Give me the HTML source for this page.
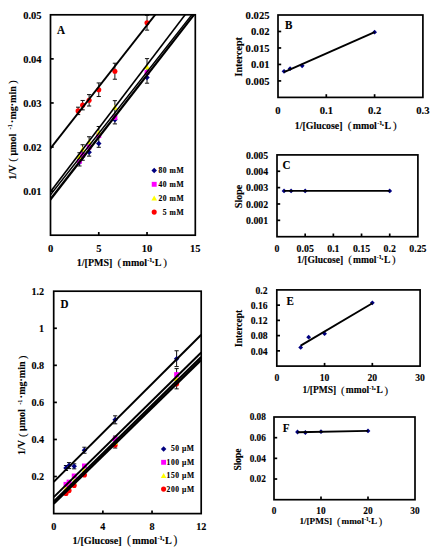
<!DOCTYPE html>
<html><head><meta charset="utf-8"><style>
html,body{margin:0;padding:0;background:#fff;width:435px;height:550px;overflow:hidden}
svg{display:block;font-family:"Liberation Serif", serif}
text{stroke:#000;stroke-width:0.12px}
</style></head><body>
<svg width="435" height="550" viewBox="0 0 435 550">
<rect width="435" height="550" fill="#fff"/>
<clipPath id="ca"><rect x="50.50" y="14.80" width="144.80" height="220.40"/></clipPath>
<text transform="translate(41.60,18.73) scale(0.93,1)" font-size="11.3" text-anchor="end" font-weight="bold">0.05</text>
<text transform="translate(41.60,62.81) scale(0.93,1)" font-size="11.3" text-anchor="end" font-weight="bold">0.04</text>
<text transform="translate(41.60,106.89) scale(0.93,1)" font-size="11.3" text-anchor="end" font-weight="bold">0.03</text>
<text transform="translate(41.60,150.97) scale(0.93,1)" font-size="11.3" text-anchor="end" font-weight="bold">0.02</text>
<text transform="translate(41.60,195.05) scale(0.93,1)" font-size="11.3" text-anchor="end" font-weight="bold">0.01</text>
<text transform="translate(50.50,251.53) scale(0.93,1)" font-size="11.3" text-anchor="middle" font-weight="bold">0</text>
<text transform="translate(98.77,251.53) scale(0.93,1)" font-size="11.3" text-anchor="middle" font-weight="bold">5</text>
<text transform="translate(147.03,251.53) scale(0.93,1)" font-size="11.3" text-anchor="middle" font-weight="bold">10</text>
<text transform="translate(195.30,251.53) scale(0.93,1)" font-size="11.3" text-anchor="middle" font-weight="bold">15</text>
<text x="76.80" y="265.50" font-size="10" font-weight="bold">1/[PMS]</text>
<text x="117.55" y="266.00" font-size="11.20">(</text>
<text x="122.55" y="265.50" font-size="10" font-weight="bold">mmol<tspan font-size="6.20" dy="-3.80" dx="0.30">-1</tspan><tspan dy="3.80" dx="-1.00">·L</tspan></text>
<text x="163.15" y="266.00" font-size="11.20">)</text>
<g transform="translate(15.80,179.70) rotate(-90)"><text x="0" y="0" font-size="10" font-weight="bold">1/V</text><text x="18.0" y="0.3" font-size="10.5">(</text><text x="24.1" y="0" font-size="10" font-weight="bold">μmol</text><text x="50.3" y="-3.6" font-size="6.2" font-weight="bold">-1</text><text x="56.8" y="0" font-size="10" font-weight="bold">·mg·min</text><text x="96.0" y="0.3" font-size="10.5">)</text></g>
<text transform="translate(57.00,33.60) scale(0.88,1)" font-size="12.6" font-weight="bold">A</text>
<line x1="78.11" y1="107.19" x2="78.11" y2="114.59" stroke="#111" stroke-width="1.0" />
<line x1="76.01" y1="107.19" x2="80.21" y2="107.19" stroke="#111" stroke-width="1.0" />
<line x1="76.01" y1="114.59" x2="80.21" y2="114.59" stroke="#111" stroke-width="1.0" />
<line x1="82.65" y1="100.46" x2="82.65" y2="109.86" stroke="#111" stroke-width="1.0" />
<line x1="80.55" y1="100.46" x2="84.75" y2="100.46" stroke="#111" stroke-width="1.0" />
<line x1="80.55" y1="109.86" x2="84.75" y2="109.86" stroke="#111" stroke-width="1.0" />
<line x1="89.11" y1="94.62" x2="89.11" y2="106.02" stroke="#111" stroke-width="1.0" />
<line x1="87.01" y1="94.62" x2="91.21" y2="94.62" stroke="#111" stroke-width="1.0" />
<line x1="87.01" y1="106.02" x2="91.21" y2="106.02" stroke="#111" stroke-width="1.0" />
<line x1="98.77" y1="82.94" x2="98.77" y2="96.54" stroke="#111" stroke-width="1.0" />
<line x1="96.67" y1="82.94" x2="100.87" y2="82.94" stroke="#111" stroke-width="1.0" />
<line x1="96.67" y1="96.54" x2="100.87" y2="96.54" stroke="#111" stroke-width="1.0" />
<line x1="114.89" y1="63.22" x2="114.89" y2="79.22" stroke="#111" stroke-width="1.0" />
<line x1="112.79" y1="63.22" x2="116.99" y2="63.22" stroke="#111" stroke-width="1.0" />
<line x1="112.79" y1="79.22" x2="116.99" y2="79.22" stroke="#111" stroke-width="1.0" />
<line x1="147.03" y1="15.33" x2="147.03" y2="30.13" stroke="#111" stroke-width="1.0" />
<line x1="144.93" y1="15.33" x2="149.13" y2="15.33" stroke="#111" stroke-width="1.0" />
<line x1="144.93" y1="30.13" x2="149.13" y2="30.13" stroke="#111" stroke-width="1.0" />
<line x1="79.46" y1="152.74" x2="79.46" y2="165.97" stroke="#111" stroke-width="1.0" />
<line x1="77.36" y1="152.74" x2="81.56" y2="152.74" stroke="#111" stroke-width="1.0" />
<line x1="77.36" y1="165.97" x2="81.56" y2="165.97" stroke="#111" stroke-width="1.0" />
<line x1="82.65" y1="144.74" x2="82.65" y2="160.24" stroke="#111" stroke-width="1.0" />
<line x1="80.55" y1="144.74" x2="84.75" y2="144.74" stroke="#111" stroke-width="1.0" />
<line x1="80.55" y1="160.24" x2="84.75" y2="160.24" stroke="#111" stroke-width="1.0" />
<line x1="89.11" y1="136.75" x2="89.11" y2="156.13" stroke="#111" stroke-width="1.0" />
<line x1="87.01" y1="136.75" x2="91.21" y2="136.75" stroke="#111" stroke-width="1.0" />
<line x1="87.01" y1="156.13" x2="91.21" y2="156.13" stroke="#111" stroke-width="1.0" />
<line x1="98.77" y1="126.49" x2="98.77" y2="147.31" stroke="#111" stroke-width="1.0" />
<line x1="96.67" y1="126.49" x2="100.87" y2="126.49" stroke="#111" stroke-width="1.0" />
<line x1="96.67" y1="147.31" x2="100.87" y2="147.31" stroke="#111" stroke-width="1.0" />
<line x1="114.89" y1="100.67" x2="114.89" y2="123.91" stroke="#111" stroke-width="1.0" />
<line x1="112.79" y1="100.67" x2="116.99" y2="100.67" stroke="#111" stroke-width="1.0" />
<line x1="112.79" y1="123.91" x2="116.99" y2="123.91" stroke="#111" stroke-width="1.0" />
<line x1="147.03" y1="58.61" x2="147.03" y2="83.19" stroke="#111" stroke-width="1.0" />
<line x1="144.93" y1="58.61" x2="149.13" y2="58.61" stroke="#111" stroke-width="1.0" />
<line x1="144.93" y1="83.19" x2="149.13" y2="83.19" stroke="#111" stroke-width="1.0" />
<path d="M79.46,159.72L82.21,162.47L79.46,165.22L76.71,162.47Z" fill="#000080"/>
<path d="M82.65,153.99L85.40,156.74L82.65,159.49L79.90,156.74Z" fill="#000080"/>
<path d="M89.11,149.58L91.86,152.33L89.11,155.08L86.36,152.33Z" fill="#000080"/>
<path d="M98.77,140.76L101.52,143.51L98.77,146.26L96.02,143.51Z" fill="#000080"/>
<path d="M114.89,116.96L117.64,119.71L114.89,122.46L112.14,119.71Z" fill="#000080"/>
<path d="M147.03,74.64L149.78,77.39L147.03,80.14L144.28,77.39Z" fill="#000080"/>
<rect x="77.01" y="158.70" width="4.90" height="4.90" fill="#ff00ff"/>
<rect x="80.20" y="152.52" width="4.90" height="4.90" fill="#ff00ff"/>
<rect x="86.66" y="144.59" width="4.90" height="4.90" fill="#ff00ff"/>
<rect x="96.32" y="133.13" width="4.90" height="4.90" fill="#ff00ff"/>
<rect x="112.44" y="115.06" width="4.90" height="4.90" fill="#ff00ff"/>
<rect x="144.58" y="70.09" width="4.90" height="4.90" fill="#ff00ff"/>
<path d="M79.46,153.94L82.26,159.12L76.66,159.12Z" fill="#ffff00"/>
<path d="M82.65,146.44L85.45,151.62L79.85,151.62Z" fill="#ffff00"/>
<path d="M89.11,138.95L91.91,144.13L86.31,144.13Z" fill="#ffff00"/>
<path d="M98.77,129.69L101.57,134.87L95.97,134.87Z" fill="#ffff00"/>
<path d="M114.89,104.57L117.69,109.75L112.09,109.75Z" fill="#ffff00"/>
<path d="M147.03,64.01L149.83,69.19L144.23,69.19Z" fill="#ffff00"/>
<circle cx="78.11" cy="110.89" r="2.55" fill="#ff0000"/>
<circle cx="82.65" cy="105.16" r="2.55" fill="#ff0000"/>
<circle cx="89.11" cy="100.32" r="2.55" fill="#ff0000"/>
<circle cx="98.77" cy="89.74" r="2.55" fill="#ff0000"/>
<circle cx="114.89" cy="71.22" r="2.55" fill="#ff0000"/>
<circle cx="147.03" cy="22.73" r="2.55" fill="#ff0000"/>
<line x1="50.50" y1="199.94" x2="195.30" y2="13.54" stroke="#000" stroke-width="1.5" clip-path="url(#ca)"/>
<line x1="50.50" y1="198.61" x2="195.30" y2="12.55" stroke="#000" stroke-width="1.5" clip-path="url(#ca)"/>
<line x1="50.50" y1="194.87" x2="195.30" y2="10.39" stroke="#000" stroke-width="1.5" clip-path="url(#ca)"/>
<line x1="50.50" y1="191.78" x2="195.30" y2="1.36" stroke="#000" stroke-width="1.6" clip-path="url(#ca)"/>
<line x1="50.50" y1="148.36" x2="195.30" y2="-36.44" stroke="#000" stroke-width="1.9" clip-path="url(#ca)"/>
<rect x="50.50" y="14.80" width="144.80" height="220.40" fill="none" stroke="#000" stroke-width="1.7"/>
<line x1="98.77" y1="235.20" x2="98.77" y2="232.00" stroke="#000" stroke-width="1.7" />
<line x1="147.03" y1="235.20" x2="147.03" y2="232.00" stroke="#000" stroke-width="1.7" />
<line x1="50.50" y1="191.12" x2="53.70" y2="191.12" stroke="#000" stroke-width="1.7" />
<line x1="50.50" y1="147.04" x2="53.70" y2="147.04" stroke="#000" stroke-width="1.7" />
<line x1="50.50" y1="102.96" x2="53.70" y2="102.96" stroke="#000" stroke-width="1.7" />
<line x1="50.50" y1="58.88" x2="53.70" y2="58.88" stroke="#000" stroke-width="1.7" />
<path d="M154.20,167.65L156.95,170.40L154.20,173.15L151.45,170.40Z" fill="#000080"/>
<text x="184.20" y="172.91" font-size="7.6" text-anchor="end" font-weight="bold" letter-spacing="0.55">80 mM</text>
<rect x="151.75" y="181.85" width="4.90" height="4.90" fill="#ff00ff"/>
<text x="184.20" y="186.81" font-size="7.6" text-anchor="end" font-weight="bold" letter-spacing="0.55">40 mM</text>
<path d="M154.20,195.40L157.00,200.58L151.40,200.58Z" fill="#ffff00"/>
<text x="184.20" y="200.71" font-size="7.6" text-anchor="end" font-weight="bold" letter-spacing="0.55">20 mM</text>
<circle cx="154.20" cy="212.10" r="2.55" fill="#ff0000"/>
<text x="184.20" y="214.61" font-size="7.6" text-anchor="end" font-weight="bold" letter-spacing="0.55">5 mM</text>
<rect x="278.00" y="15.00" width="144.90" height="82.40" fill="none" stroke="#000" stroke-width="1.7"/>
<line x1="326.30" y1="97.40" x2="326.30" y2="94.20" stroke="#000" stroke-width="1.7" />
<line x1="374.60" y1="97.40" x2="374.60" y2="94.20" stroke="#000" stroke-width="1.7" />
<line x1="278.00" y1="80.92" x2="281.20" y2="80.92" stroke="#000" stroke-width="1.7" />
<line x1="278.00" y1="64.44" x2="281.20" y2="64.44" stroke="#000" stroke-width="1.7" />
<line x1="278.00" y1="47.96" x2="281.20" y2="47.96" stroke="#000" stroke-width="1.7" />
<line x1="278.00" y1="31.48" x2="281.20" y2="31.48" stroke="#000" stroke-width="1.7" />
<text transform="translate(269.50,18.93) scale(0.94,1)" font-size="11.3" text-anchor="end" font-weight="bold">0.025</text>
<text transform="translate(269.50,35.41) scale(0.94,1)" font-size="11.3" text-anchor="end" font-weight="bold">0.02</text>
<text transform="translate(269.50,51.89) scale(0.94,1)" font-size="11.3" text-anchor="end" font-weight="bold">0.015</text>
<text transform="translate(269.50,68.37) scale(0.94,1)" font-size="11.3" text-anchor="end" font-weight="bold">0.01</text>
<text transform="translate(269.50,84.85) scale(0.94,1)" font-size="11.3" text-anchor="end" font-weight="bold">0.005</text>
<text transform="translate(278.00,113.73) scale(0.94,1)" font-size="11.3" text-anchor="middle" font-weight="bold">0</text>
<text transform="translate(326.30,113.73) scale(0.94,1)" font-size="11.3" text-anchor="middle" font-weight="bold">0.1</text>
<text transform="translate(374.60,113.73) scale(0.94,1)" font-size="11.3" text-anchor="middle" font-weight="bold">0.2</text>
<text transform="translate(422.90,113.73) scale(0.94,1)" font-size="11.3" text-anchor="middle" font-weight="bold">0.3</text>
<text x="294.80" y="128.87" font-size="9.9" font-weight="bold">1/[Glucose]</text>
<text x="347.79" y="129.37" font-size="11.09">(</text>
<text x="352.74" y="128.87" font-size="9.9" font-weight="bold">mmol<tspan font-size="6.14" dy="-3.76" dx="0.30">-1</tspan><tspan dy="3.76" dx="-0.99">·L</tspan></text>
<text x="392.93" y="129.37" font-size="11.09">)</text>
<text transform="translate(242.20,56.75) rotate(-90)" x="0" y="0" font-size="10" font-weight="bold" text-anchor="middle">Intercept</text>
<text transform="translate(285.10,29.00) scale(0.88,1)" font-size="12.6" font-weight="bold">B</text>
<path d="M284.04,68.96L286.44,71.36L284.04,73.76L281.64,71.36Z" fill="#000080"/>
<path d="M290.07,66.32L292.47,68.72L290.07,71.12L287.68,68.72Z" fill="#000080"/>
<path d="M302.15,63.36L304.55,65.76L302.15,68.16L299.75,65.76Z" fill="#000080"/>
<path d="M374.60,29.74L377.00,32.14L374.60,34.54L372.20,32.14Z" fill="#000080"/>
<line x1="284.04" y1="72.02" x2="374.60" y2="32.14" stroke="#000" stroke-width="1.9" />
<rect x="277.00" y="154.90" width="140.90" height="81.80" fill="none" stroke="#000" stroke-width="1.7"/>
<line x1="305.18" y1="236.70" x2="305.18" y2="233.50" stroke="#000" stroke-width="1.7" />
<line x1="333.36" y1="236.70" x2="333.36" y2="233.50" stroke="#000" stroke-width="1.7" />
<line x1="361.54" y1="236.70" x2="361.54" y2="233.50" stroke="#000" stroke-width="1.7" />
<line x1="389.72" y1="236.70" x2="389.72" y2="233.50" stroke="#000" stroke-width="1.7" />
<line x1="277.00" y1="220.34" x2="280.20" y2="220.34" stroke="#000" stroke-width="1.7" />
<line x1="277.00" y1="203.98" x2="280.20" y2="203.98" stroke="#000" stroke-width="1.7" />
<line x1="277.00" y1="187.62" x2="280.20" y2="187.62" stroke="#000" stroke-width="1.7" />
<line x1="277.00" y1="171.26" x2="280.20" y2="171.26" stroke="#000" stroke-width="1.7" />
<text transform="translate(268.20,158.76) scale(0.89,1)" font-size="11.1" text-anchor="end" font-weight="bold">0.005</text>
<text transform="translate(268.20,175.12) scale(0.89,1)" font-size="11.1" text-anchor="end" font-weight="bold">0.004</text>
<text transform="translate(268.20,191.48) scale(0.89,1)" font-size="11.1" text-anchor="end" font-weight="bold">0.003</text>
<text transform="translate(268.20,207.84) scale(0.89,1)" font-size="11.1" text-anchor="end" font-weight="bold">0.002</text>
<text transform="translate(268.20,224.20) scale(0.89,1)" font-size="11.1" text-anchor="end" font-weight="bold">0.001</text>
<text transform="translate(277.00,252.36) scale(0.89,1)" font-size="11.1" text-anchor="middle" font-weight="bold">0</text>
<text transform="translate(305.18,252.36) scale(0.89,1)" font-size="11.1" text-anchor="middle" font-weight="bold">0.05</text>
<text transform="translate(333.36,252.36) scale(0.89,1)" font-size="11.1" text-anchor="middle" font-weight="bold">0.1</text>
<text transform="translate(361.54,252.36) scale(0.89,1)" font-size="11.1" text-anchor="middle" font-weight="bold">0.15</text>
<text transform="translate(389.72,252.36) scale(0.89,1)" font-size="11.1" text-anchor="middle" font-weight="bold">0.2</text>
<text transform="translate(417.90,252.36) scale(0.89,1)" font-size="11.1" text-anchor="middle" font-weight="bold">0.25</text>
<text x="296.90" y="262.57" font-size="9.6" font-weight="bold">1/[Glucose]</text>
<text x="348.28" y="263.07" font-size="10.75">(</text>
<text x="353.08" y="262.57" font-size="9.6" font-weight="bold">mmol<tspan font-size="5.95" dy="-3.65" dx="0.29">-1</tspan><tspan dy="3.65" dx="-0.96">·L</tspan></text>
<text x="392.06" y="263.07" font-size="10.75">)</text>
<text transform="translate(241.60,196.50) rotate(-90)" x="0" y="0" font-size="10" font-weight="bold" text-anchor="middle">Slope</text>
<text transform="translate(282.40,169.20) scale(0.88,1)" font-size="12.6" font-weight="bold">C</text>
<path d="M284.05,188.49L286.44,190.89L284.05,193.29L281.65,190.89Z" fill="#000080"/>
<path d="M291.09,188.49L293.49,190.89L291.09,193.29L288.69,190.89Z" fill="#000080"/>
<path d="M305.18,188.49L307.58,190.89L305.18,193.29L302.78,190.89Z" fill="#000080"/>
<path d="M389.72,188.49L392.12,190.89L389.72,193.29L387.32,190.89Z" fill="#000080"/>
<line x1="284.05" y1="190.89" x2="389.72" y2="190.89" stroke="#000" stroke-width="1.9" />
<clipPath id="cd"><rect x="53.70" y="291.20" width="147.50" height="222.40"/></clipPath>
<text transform="translate(44.20,295.13) scale(0.9,1)" font-size="11.3" text-anchor="end" font-weight="bold">1.2</text>
<text transform="translate(44.20,332.20) scale(0.9,1)" font-size="11.3" text-anchor="end" font-weight="bold">1</text>
<text transform="translate(44.20,369.26) scale(0.9,1)" font-size="11.3" text-anchor="end" font-weight="bold">0.8</text>
<text transform="translate(44.20,406.33) scale(0.9,1)" font-size="11.3" text-anchor="end" font-weight="bold">0.6</text>
<text transform="translate(44.20,443.40) scale(0.9,1)" font-size="11.3" text-anchor="end" font-weight="bold">0.4</text>
<text transform="translate(44.20,480.46) scale(0.9,1)" font-size="11.3" text-anchor="end" font-weight="bold">0.2</text>
<text transform="translate(53.70,530.23) scale(0.9,1)" font-size="11.3" text-anchor="middle" font-weight="bold">0</text>
<text transform="translate(102.87,530.23) scale(0.9,1)" font-size="11.3" text-anchor="middle" font-weight="bold">4</text>
<text transform="translate(152.03,530.23) scale(0.9,1)" font-size="11.3" text-anchor="middle" font-weight="bold">8</text>
<text transform="translate(201.20,530.23) scale(0.9,1)" font-size="11.3" text-anchor="middle" font-weight="bold">12</text>
<text x="72.50" y="543.67" font-size="10.2" font-weight="bold">1/[Glucose]</text>
<text x="127.10" y="544.17" font-size="11.42">(</text>
<text x="132.20" y="543.67" font-size="10.2" font-weight="bold">mmol<tspan font-size="6.32" dy="-3.88" dx="0.31">-1</tspan><tspan dy="3.88" dx="-1.02">·L</tspan></text>
<text x="173.61" y="544.17" font-size="11.42">)</text>
<g transform="translate(25.40,455.00) rotate(-90)"><text x="0" y="0" font-size="10" font-weight="bold">1/V</text><text x="18.0" y="0.3" font-size="10.5">(</text><text x="24.1" y="0" font-size="10" font-weight="bold">μmol</text><text x="50.3" y="-3.6" font-size="6.2" font-weight="bold">-1</text><text x="56.8" y="0" font-size="10" font-weight="bold">·mg·min</text><text x="96.0" y="0.3" font-size="10.5">)</text></g>
<text transform="translate(60.40,307.80) scale(0.88,1)" font-size="12.6" font-weight="bold">D</text>
<line x1="65.99" y1="465.51" x2="65.99" y2="470.51" stroke="#111" stroke-width="1.0" />
<line x1="63.89" y1="465.51" x2="68.09" y2="465.51" stroke="#111" stroke-width="1.0" />
<line x1="63.89" y1="470.51" x2="68.09" y2="470.51" stroke="#111" stroke-width="1.0" />
<line x1="69.06" y1="462.60" x2="69.06" y2="468.60" stroke="#111" stroke-width="1.0" />
<line x1="66.96" y1="462.60" x2="71.16" y2="462.60" stroke="#111" stroke-width="1.0" />
<line x1="66.96" y1="468.60" x2="71.16" y2="468.60" stroke="#111" stroke-width="1.0" />
<line x1="74.19" y1="463.84" x2="74.19" y2="468.84" stroke="#111" stroke-width="1.0" />
<line x1="72.09" y1="463.84" x2="76.29" y2="463.84" stroke="#111" stroke-width="1.0" />
<line x1="72.09" y1="468.84" x2="76.29" y2="468.84" stroke="#111" stroke-width="1.0" />
<line x1="84.43" y1="447.22" x2="84.43" y2="453.22" stroke="#111" stroke-width="1.0" />
<line x1="82.33" y1="447.22" x2="86.53" y2="447.22" stroke="#111" stroke-width="1.0" />
<line x1="82.33" y1="453.22" x2="86.53" y2="453.22" stroke="#111" stroke-width="1.0" />
<line x1="115.16" y1="415.82" x2="115.16" y2="423.82" stroke="#111" stroke-width="1.0" />
<line x1="113.06" y1="415.82" x2="117.26" y2="415.82" stroke="#111" stroke-width="1.0" />
<line x1="113.06" y1="423.82" x2="117.26" y2="423.82" stroke="#111" stroke-width="1.0" />
<line x1="176.62" y1="350.76" x2="176.62" y2="366.56" stroke="#111" stroke-width="1.0" />
<line x1="174.52" y1="350.76" x2="178.72" y2="350.76" stroke="#111" stroke-width="1.0" />
<line x1="174.52" y1="366.56" x2="178.72" y2="366.56" stroke="#111" stroke-width="1.0" />
<line x1="176.62" y1="368.60" x2="176.62" y2="388.87" stroke="#111" stroke-width="1.0" />
<line x1="174.52" y1="368.60" x2="178.72" y2="368.60" stroke="#111" stroke-width="1.0" />
<line x1="174.52" y1="388.87" x2="178.72" y2="388.87" stroke="#111" stroke-width="1.0" />
<line x1="115.16" y1="436.10" x2="115.16" y2="448.03" stroke="#111" stroke-width="1.0" />
<line x1="113.06" y1="436.10" x2="117.26" y2="436.10" stroke="#111" stroke-width="1.0" />
<line x1="113.06" y1="448.03" x2="117.26" y2="448.03" stroke="#111" stroke-width="1.0" />
<circle cx="65.99" cy="493.40" r="2.55" fill="#ff0000"/>
<circle cx="69.06" cy="490.62" r="2.55" fill="#ff0000"/>
<circle cx="74.19" cy="485.43" r="2.55" fill="#ff0000"/>
<circle cx="84.43" cy="475.05" r="2.55" fill="#ff0000"/>
<circle cx="115.16" cy="445.03" r="2.55" fill="#ff0000"/>
<circle cx="176.62" cy="383.87" r="2.55" fill="#ff0000"/>
<path d="M65.99,485.78L68.79,490.96L63.19,490.96Z" fill="#ffff00"/>
<path d="M69.06,483.00L71.86,488.18L66.26,488.18Z" fill="#ffff00"/>
<path d="M74.19,478.37L76.99,483.55L71.39,483.55Z" fill="#ffff00"/>
<path d="M84.43,467.25L87.23,472.43L81.63,472.43Z" fill="#ffff00"/>
<path d="M115.16,439.45L117.96,444.63L112.36,444.63Z" fill="#ffff00"/>
<path d="M176.62,375.88L179.42,381.06L173.82,381.06Z" fill="#ffff00"/>
<rect x="63.54" y="481.87" width="4.90" height="4.90" fill="#ff00ff"/>
<rect x="66.61" y="479.64" width="4.90" height="4.90" fill="#ff00ff"/>
<rect x="71.74" y="473.53" width="4.90" height="4.90" fill="#ff00ff"/>
<rect x="81.98" y="463.52" width="4.90" height="4.90" fill="#ff00ff"/>
<rect x="112.71" y="436.65" width="4.90" height="4.90" fill="#ff00ff"/>
<rect x="174.17" y="372.15" width="4.90" height="4.90" fill="#ff00ff"/>
<path d="M65.99,465.26L68.74,468.01L65.99,470.76L63.24,468.01Z" fill="#000080"/>
<path d="M69.06,462.85L71.81,465.60L69.06,468.35L66.31,465.60Z" fill="#000080"/>
<path d="M74.19,463.59L76.94,466.34L74.19,469.09L71.44,466.34Z" fill="#000080"/>
<path d="M84.43,447.47L87.18,450.22L84.43,452.97L81.68,450.22Z" fill="#000080"/>
<path d="M115.16,417.07L117.91,419.82L115.16,422.57L112.41,419.82Z" fill="#000080"/>
<path d="M176.62,355.91L179.37,358.66L176.62,361.41L173.87,358.66Z" fill="#000080"/>
<line x1="53.70" y1="481.91" x2="201.20" y2="334.68" stroke="#000" stroke-width="2.0" clip-path="url(#cd)"/>
<line x1="53.70" y1="497.11" x2="201.20" y2="352.55" stroke="#000" stroke-width="2.0" clip-path="url(#cd)"/>
<line x1="53.70" y1="501.55" x2="201.20" y2="356.99" stroke="#000" stroke-width="2.3" clip-path="url(#cd)"/>
<line x1="53.70" y1="503.78" x2="201.20" y2="359.88" stroke="#000" stroke-width="2.3" clip-path="url(#cd)"/>
<rect x="53.70" y="291.20" width="147.50" height="222.40" fill="none" stroke="#000" stroke-width="1.7"/>
<line x1="102.87" y1="513.60" x2="102.87" y2="510.40" stroke="#000" stroke-width="1.7" />
<line x1="152.03" y1="513.60" x2="152.03" y2="510.40" stroke="#000" stroke-width="1.7" />
<line x1="53.70" y1="476.53" x2="56.90" y2="476.53" stroke="#000" stroke-width="1.7" />
<line x1="53.70" y1="439.47" x2="56.90" y2="439.47" stroke="#000" stroke-width="1.7" />
<line x1="53.70" y1="402.40" x2="56.90" y2="402.40" stroke="#000" stroke-width="1.7" />
<line x1="53.70" y1="365.33" x2="56.90" y2="365.33" stroke="#000" stroke-width="1.7" />
<line x1="53.70" y1="328.27" x2="56.90" y2="328.27" stroke="#000" stroke-width="1.7" />
<path d="M163.60,446.15L166.35,448.90L163.60,451.65L160.85,448.90Z" fill="#000080"/>
<text x="194.60" y="451.41" font-size="7.6" text-anchor="end" font-weight="bold" letter-spacing="0.55">50 μM</text>
<rect x="161.15" y="459.85" width="4.90" height="4.90" fill="#ff00ff"/>
<text x="194.60" y="464.81" font-size="7.6" text-anchor="end" font-weight="bold" letter-spacing="0.55">100 μM</text>
<path d="M163.60,472.90L166.40,478.08L160.80,478.08Z" fill="#ffff00"/>
<text x="194.60" y="478.21" font-size="7.6" text-anchor="end" font-weight="bold" letter-spacing="0.55">150 μM</text>
<circle cx="163.60" cy="489.10" r="2.55" fill="#ff0000"/>
<text x="194.60" y="491.61" font-size="7.6" text-anchor="end" font-weight="bold" letter-spacing="0.55">200 μM</text>
<rect x="276.80" y="289.90" width="143.30" height="76.20" fill="none" stroke="#000" stroke-width="1.7"/>
<line x1="324.57" y1="366.10" x2="324.57" y2="362.90" stroke="#000" stroke-width="1.7" />
<line x1="372.33" y1="366.10" x2="372.33" y2="362.90" stroke="#000" stroke-width="1.7" />
<line x1="276.80" y1="350.86" x2="280.00" y2="350.86" stroke="#000" stroke-width="1.7" />
<line x1="276.80" y1="335.62" x2="280.00" y2="335.62" stroke="#000" stroke-width="1.7" />
<line x1="276.80" y1="320.38" x2="280.00" y2="320.38" stroke="#000" stroke-width="1.7" />
<line x1="276.80" y1="305.14" x2="280.00" y2="305.14" stroke="#000" stroke-width="1.7" />
<text transform="translate(267.60,293.73) scale(0.88,1)" font-size="11.0" text-anchor="end" font-weight="bold">0.2</text>
<text transform="translate(267.60,308.97) scale(0.88,1)" font-size="11.0" text-anchor="end" font-weight="bold">0.16</text>
<text transform="translate(267.60,324.21) scale(0.88,1)" font-size="11.0" text-anchor="end" font-weight="bold">0.12</text>
<text transform="translate(267.60,339.45) scale(0.88,1)" font-size="11.0" text-anchor="end" font-weight="bold">0.08</text>
<text transform="translate(267.60,354.69) scale(0.88,1)" font-size="11.0" text-anchor="end" font-weight="bold">0.04</text>
<text transform="translate(276.80,380.73) scale(0.88,1)" font-size="11.0" text-anchor="middle" font-weight="bold">0</text>
<text transform="translate(324.57,380.73) scale(0.88,1)" font-size="11.0" text-anchor="middle" font-weight="bold">10</text>
<text transform="translate(372.33,380.73) scale(0.88,1)" font-size="11.0" text-anchor="middle" font-weight="bold">20</text>
<text transform="translate(420.10,380.73) scale(0.88,1)" font-size="11.0" text-anchor="middle" font-weight="bold">30</text>
<text x="302.40" y="393.33" font-size="9.5" font-weight="bold">1/[PMS]</text>
<text x="341.11" y="393.83" font-size="10.64">(</text>
<text x="345.86" y="393.33" font-size="9.5" font-weight="bold">mmol<tspan font-size="5.89" dy="-3.61" dx="0.28">-1</tspan><tspan dy="3.61" dx="-0.95">·L</tspan></text>
<text x="384.43" y="393.83" font-size="10.64">)</text>
<text transform="translate(242.30,328.40) rotate(-90)" x="0" y="0" font-size="9.5" font-weight="bold" text-anchor="middle">Intercept</text>
<text transform="translate(286.60,304.60) scale(0.88,1)" font-size="12.6" font-weight="bold">E</text>
<path d="M300.68,345.03L303.08,347.43L300.68,349.83L298.28,347.43Z" fill="#000080"/>
<path d="M308.66,334.74L311.06,337.14L308.66,339.54L306.26,337.14Z" fill="#000080"/>
<path d="M324.57,331.32L326.97,333.72L324.57,336.12L322.17,333.72Z" fill="#000080"/>
<path d="M372.33,300.45L374.73,302.85L372.33,305.25L369.93,302.85Z" fill="#000080"/>
<line x1="300.68" y1="345.60" x2="372.33" y2="303.24" stroke="#000" stroke-width="1.9" />
<rect x="274.00" y="417.00" width="141.00" height="82.70" fill="none" stroke="#000" stroke-width="1.7"/>
<line x1="321.00" y1="499.70" x2="321.00" y2="496.50" stroke="#000" stroke-width="1.7" />
<line x1="368.00" y1="499.70" x2="368.00" y2="496.50" stroke="#000" stroke-width="1.7" />
<line x1="274.00" y1="479.02" x2="277.20" y2="479.02" stroke="#000" stroke-width="1.7" />
<line x1="274.00" y1="458.35" x2="277.20" y2="458.35" stroke="#000" stroke-width="1.7" />
<line x1="274.00" y1="437.68" x2="277.20" y2="437.68" stroke="#000" stroke-width="1.7" />
<text transform="translate(265.90,420.37) scale(0.97,1)" font-size="9.6" text-anchor="end" font-weight="bold">0.08</text>
<text transform="translate(265.90,441.04) scale(0.97,1)" font-size="9.6" text-anchor="end" font-weight="bold">0.06</text>
<text transform="translate(265.90,461.72) scale(0.97,1)" font-size="9.6" text-anchor="end" font-weight="bold">0.04</text>
<text transform="translate(265.90,482.39) scale(0.97,1)" font-size="9.6" text-anchor="end" font-weight="bold">0.02</text>
<text transform="translate(274.00,513.97) scale(0.97,1)" font-size="9.6" text-anchor="middle" font-weight="bold">0</text>
<text transform="translate(321.00,513.97) scale(0.97,1)" font-size="9.6" text-anchor="middle" font-weight="bold">10</text>
<text transform="translate(368.00,513.97) scale(0.97,1)" font-size="9.6" text-anchor="middle" font-weight="bold">20</text>
<text transform="translate(415.00,513.97) scale(0.97,1)" font-size="9.6" text-anchor="middle" font-weight="bold">30</text>
<text x="299.40" y="524.44" font-size="9.2" font-weight="bold">1/[PMS]</text>
<text x="336.89" y="524.94" font-size="10.30">(</text>
<text x="341.49" y="524.44" font-size="9.2" font-weight="bold">mmol<tspan font-size="5.70" dy="-3.50" dx="0.28">-1</tspan><tspan dy="3.50" dx="-0.92">·L</tspan></text>
<text x="378.84" y="524.94" font-size="10.30">)</text>
<text transform="translate(241.30,459.50) rotate(-90)" x="0" y="0" font-size="9.5" font-weight="bold" text-anchor="middle">Slope</text>
<text transform="translate(282.80,431.60) scale(0.88,1)" font-size="12.6" font-weight="bold">F</text>
<path d="M297.50,429.59L299.90,431.99L297.50,434.39L295.10,431.99Z" fill="#000080"/>
<path d="M305.35,430.11L307.75,432.51L305.35,434.91L302.95,432.51Z" fill="#000080"/>
<path d="M321.00,429.28L323.40,431.68L321.00,434.08L318.60,431.68Z" fill="#000080"/>
<path d="M368.00,428.56L370.40,430.96L368.00,433.36L365.60,430.96Z" fill="#000080"/>
<line x1="297.50" y1="432.30" x2="368.00" y2="430.85" stroke="#000" stroke-width="1.9" />
</svg>
</body></html>
